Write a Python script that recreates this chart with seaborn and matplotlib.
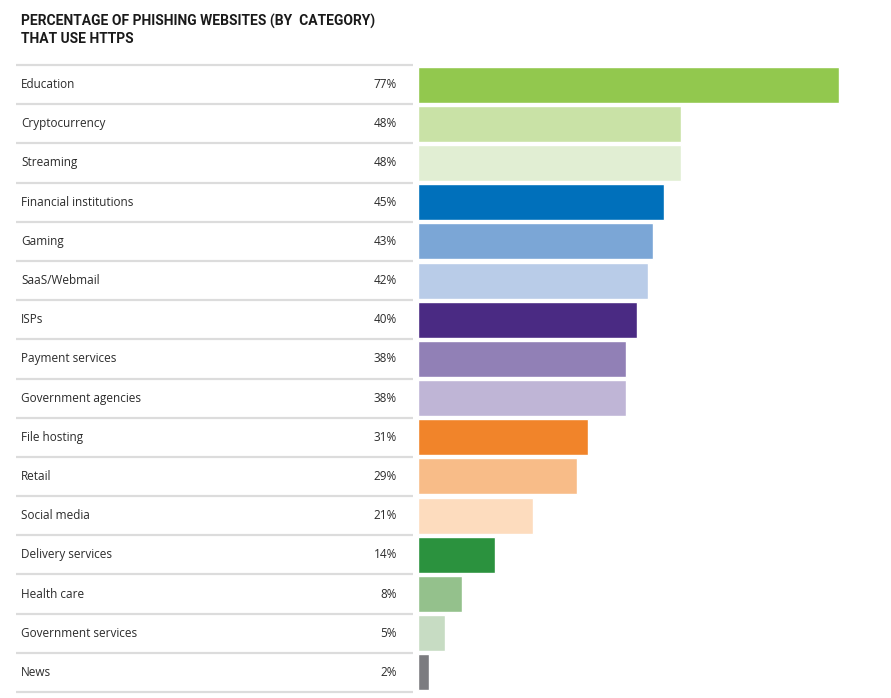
import matplotlib
matplotlib.use("Agg")
import matplotlib.pyplot as plt
import seaborn as sns
import pandas as pd

categories = [
    "Education", "Cryptocurrency", "Streaming", "Financial institutions",
    "Gaming", "SaaS/Webmail", "ISPs", "Payment services",
    "Government agencies", "File hosting", "Retail", "Social media",
    "Delivery services", "Health care", "Government services", "News",
]
https_pct = [77, 48, 48, 45, 43, 42, 40, 38, 38, 31, 29, 21, 14, 8, 5, 2]
bar_colors = [
    "#92c84e", "#c9e2a6", "#e1eed3", "#0070bb",
    "#7ba6d6", "#b9cce8", "#4a2a83", "#9180b6",
    "#bfb5d6", "#f1842a", "#f8bc88", "#fddcbe",
    "#2b923e", "#94c18c", "#c7dcc3", "#7c7c80",
]

df = pd.DataFrame({"category": categories, "pct": https_pct})

sns.set_style("white")
plt.rcParams["font.family"] = ["Open Sans", "DejaVu Sans"]

W, H = 891, 698
fig = plt.figure(figsize=(W / 100, H / 100), dpi=100)

px_per_unit = 5.47
left_px, top_px, bottom_px = 418, 65, 692
ax = fig.add_axes([left_px / W, 1 - bottom_px / H, 1 - left_px / W, (bottom_px - top_px) / H])

sns.barplot(data=df, x="pct", y="category", hue="category", palette=bar_colors,
            legend=False, width=0.92, saturation=1, ax=ax)
ax.set_xlim(0, (W - left_px) / px_per_unit)
ax.set_ylim(len(categories) - 0.5, -0.5)
ax.axis("off")

def to_data(px):
    return (px - left_px) / px_per_unit

# table separators and labels
ax.hlines([i - 0.5 for i in range(len(categories) + 1)], to_data(16), to_data(413),
          color="#dcdcdc", lw=1.6, clip_on=False)
for i, (cat, v) in enumerate(zip(categories, https_pct)):
    ax.text(to_data(21), i, cat, ha="left", va="center", fontsize=8.5,
            color="#2b2b2b", clip_on=False)
    ax.text(to_data(397), i, f"{v}%", ha="right", va="center", fontsize=8.5,
            color="#2b2b2b", clip_on=False)

fig.text(21 / W, 1 - 14 / H, "PERCENTAGE OF PHISHING WEBSITES (BY  CATEGORY)\nTHAT USE HTTPS",
         ha="left", va="top", fontsize=10, fontweight="bold", color="#1a1a1a",
         family=["Roboto", "DejaVu Sans"], linespacing=1.3)

fig.savefig("out.png", dpi=100)
